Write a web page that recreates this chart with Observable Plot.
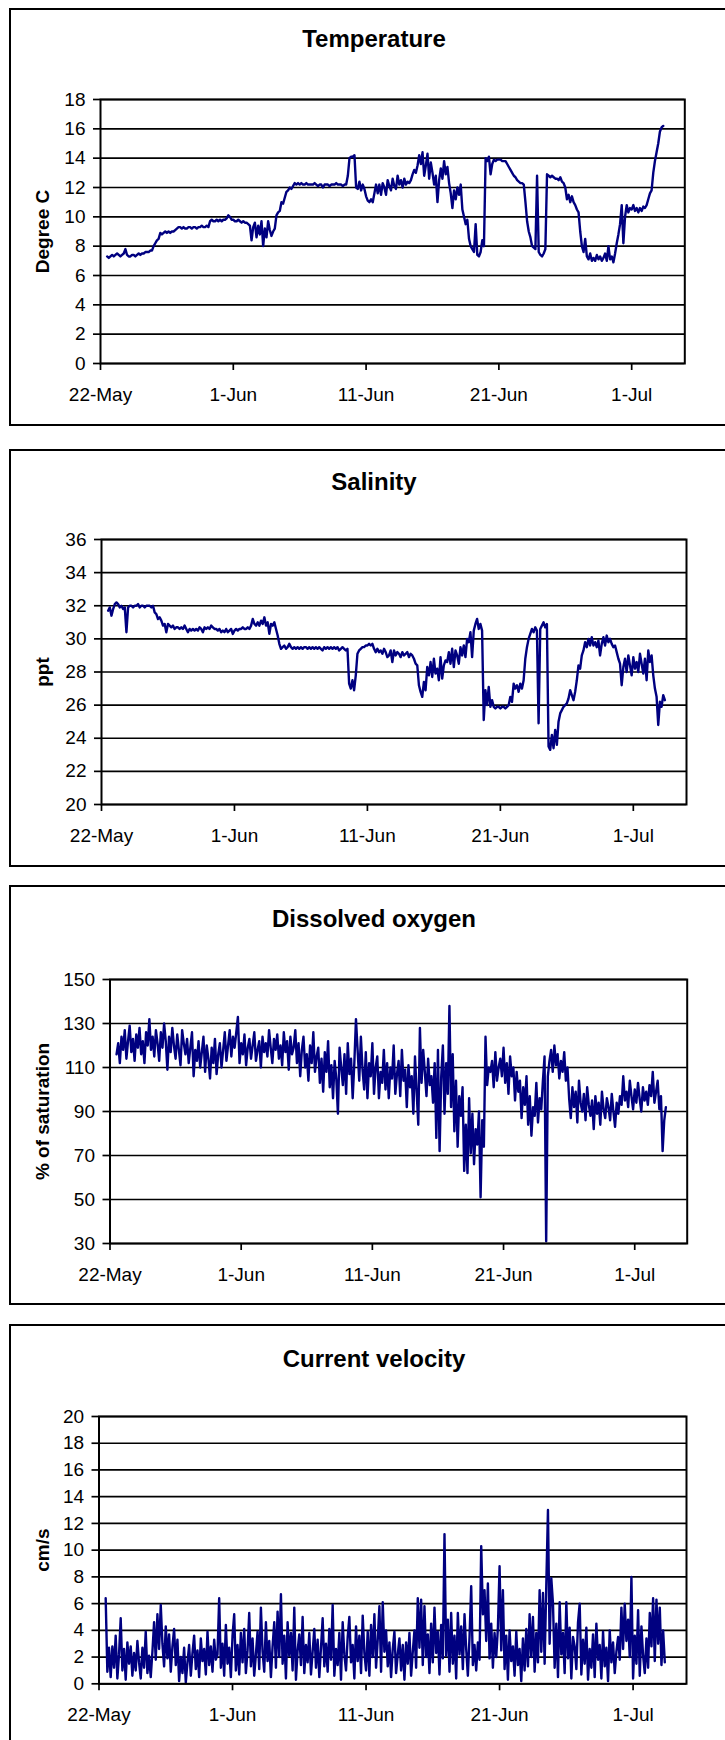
<!DOCTYPE html>
<html>
<head>
<meta charset="utf-8">
<script src="https://cdn.jsdelivr.net/npm/d3@7"></script>
<script src="https://cdn.jsdelivr.net/npm/@observablehq/plot@0.6"></script>
<style>
  html, body { margin: 0; padding: 0; background: #fff; }
  body { width: 725px; height: 1740px; overflow: hidden; position: relative;
         font-family: "Liberation Sans", Arial, sans-serif; }
  .box { position: absolute; left: 9px; width: 745px; border: 2.5px solid #000; box-sizing: border-box; }
  .title { position: absolute; left: 0; width: 748px; text-align: center; font-weight: bold;
           font-size: 24px; line-height: 24px; color: #000; white-space: nowrap; }
  .chart { position: absolute; left: 0; }
  .chart g[aria-label$="axis tick"] { stroke-width: 1.7px; }
</style>
</head>
<body>
<script>
// Mooring record, one reading every 3 hours from 22 May 12:00 to 3 July 09:00.
const START = Date.UTC(2005, 4, 22, 12);
const STEP_HOURS = 3;

const xDomain = [new Date(Date.UTC(2005, 4, 22)), new Date(Date.UTC(2005, 6, 5))];
const dateTicks = [
  new Date(Date.UTC(2005, 4, 22)), new Date(Date.UTC(2005, 5, 1)), new Date(Date.UTC(2005, 5, 11)),
  new Date(Date.UTC(2005, 5, 21)), new Date(Date.UTC(2005, 6, 1))
];

const temperatureTicks = [0, 2, 4, 6, 8, 10, 12, 14, 16, 18];
const salinityTicks = [20, 22, 24, 26, 28, 30, 32, 34, 36];
const oxygenTicks = [30, 50, 70, 90, 110, 130, 150];
const velocityTicks = [0, 2, 4, 6, 8, 10, 12, 14, 16, 18, 20];

// Degree C
const temperature = [
  7.3, 7.2, 7.3, 7.4,
  7.3, 7.4, 7.5, 7.4, 7.3, 7.4, 7.5, 7.8,
  7.4, 7.3, 7.3, 7.4, 7.4, 7.3, 7.4, 7.5,
  7.4, 7.5, 7.5, 7.6, 7.6, 7.6, 7.7, 7.7,
  8.0, 8.2, 8.4, 8.5, 8.9, 8.8, 8.9, 9.0,
  8.9, 9.0, 8.9, 9.0, 9.0, 9.1, 9.2, 9.3,
  9.3, 9.2, 9.3, 9.2, 9.2, 9.3, 9.3, 9.2,
  9.3, 9.3, 9.2, 9.3, 9.3, 9.4, 9.3, 9.3,
  9.4, 9.3, 9.7, 9.8, 9.7, 9.7, 9.8, 9.7,
  9.8, 9.7, 9.8, 9.8, 9.9, 10.1, 10.0, 9.8,
  9.8, 9.7, 9.7, 9.8, 9.7, 9.6, 9.7, 9.6,
  9.6, 9.5, 9.4, 8.4, 9.3, 9.6, 8.6, 9.4,
  8.8, 9.7, 8.0, 9.2, 8.6, 9.7, 9.1, 8.7,
  9.0, 9.2, 10.1, 10.3, 10.4, 11.0, 10.9, 11.3,
  11.7, 11.8, 12.0, 11.9, 12.1, 12.3, 12.2, 12.3,
  12.2, 12.3, 12.2, 12.2, 12.3, 12.2, 12.2, 12.2,
  12.2, 12.3, 12.2, 12.1, 12.2, 12.2, 12.0, 12.2,
  12.2, 12.2, 12.1, 12.2, 12.2, 12.2, 12.3, 12.2,
  12.2, 12.2, 12.1, 12.2, 12.2, 12.8, 14.0, 14.1,
  14.1, 14.2, 12.0, 11.9, 12.4, 11.8, 12.2, 11.9,
  11.4, 11.1, 11.0, 11.2, 11.0, 11.6, 12.2, 11.6,
  12.2, 11.5, 12.3, 12.0, 11.5, 12.5, 12.1, 11.8,
  12.6, 12.1, 11.9, 12.8, 12.2, 12.5, 12.0, 12.6,
  12.2, 12.4, 12.3, 12.5, 12.9, 13.2, 13.0, 13.5,
  14.2, 13.6, 14.4, 12.8, 13.5, 14.3, 12.6, 13.7,
  13.0, 12.2, 12.8, 11.0, 12.5, 13.3, 12.6, 13.8,
  12.9, 13.4, 12.3, 11.6, 10.6, 11.8, 11.2, 12.0,
  11.5, 12.2, 10.5, 10.0, 9.5, 9.8, 8.5, 8.0,
  7.8, 7.6, 9.5, 7.4, 7.3, 7.6, 8.4, 8.0,
  14.0, 13.8, 14.1, 12.9, 13.6, 13.9, 13.8, 13.9,
  13.9, 13.9, 13.8, 13.8, 13.8, 13.6, 13.4, 13.2,
  13.0, 12.8, 12.7, 12.5, 12.4, 12.3, 12.3, 12.2,
  11.0, 9.7, 9.0, 8.6, 8.0, 7.9, 7.8, 12.8,
  7.6, 7.4, 7.3, 7.5, 7.8, 12.9, 12.8, 12.7,
  12.8, 12.7, 12.6, 12.6, 12.5, 12.7, 12.4, 12.3,
  12.0, 11.2, 11.5, 11.0, 11.4, 11.0, 10.8, 10.5,
  10.3, 9.0, 8.0, 7.6, 8.5, 7.3, 7.1, 7.5,
  7.0, 7.2, 7.0, 7.4, 7.1, 7.3, 7.0, 7.2,
  7.5, 7.0, 8.0, 7.1, 7.3, 6.9, 7.5, 8.2,
  8.8, 9.5, 10.8, 8.2, 10.0, 10.8, 10.3, 10.6,
  10.5, 10.8, 10.4, 10.6, 10.3, 10.6, 10.4, 10.7,
  10.6, 10.8, 11.2, 11.6, 11.8, 13.0, 13.8, 14.4,
  15.0, 15.8, 16.1, 16.2
];

// ppt
const salinity = [
  31.7, 31.9, 31.4, 31.8,
  32.1, 32.2, 32.1, 31.9, 32.0, 31.8, 31.9, 30.4,
  31.9, 32.0, 32.0, 31.9, 32.0, 32.0, 32.1, 31.9,
  32.0, 32.0, 31.9, 32.0, 32.0, 32.0, 31.9, 32.0,
  31.6, 31.5, 31.2, 31.3, 31.1, 30.8, 30.9, 30.4,
  30.9, 30.8, 30.7, 30.8, 30.6, 30.7, 30.7, 30.6,
  30.7, 30.6, 30.8, 30.6, 30.4, 30.6, 30.5, 30.6,
  30.5, 30.6, 30.5, 30.7, 30.6, 30.4, 30.7, 30.6,
  30.7, 30.6, 30.8, 30.7, 30.6, 30.6, 30.5, 30.6,
  30.4, 30.5, 30.4, 30.6, 30.4, 30.5, 30.6, 30.3,
  30.5, 30.6, 30.5, 30.6, 30.6, 30.7, 30.6, 30.6,
  30.7, 30.6, 30.8, 31.2, 30.9, 30.8, 31.0, 30.8,
  31.1, 30.9, 31.3, 30.8, 31.0, 30.3, 30.9, 30.8,
  31.0, 30.6, 30.2, 29.7, 29.4, 29.5, 29.6, 29.4,
  29.5, 29.7, 29.5, 29.4, 29.5, 29.4, 29.5, 29.4,
  29.5, 29.4, 29.5, 29.5, 29.4, 29.5, 29.4, 29.5,
  29.4, 29.5, 29.4, 29.5, 29.4, 29.3, 29.5, 29.4,
  29.5, 29.4, 29.5, 29.4, 29.5, 29.4, 29.5, 29.3,
  29.4, 29.5, 29.4, 29.3, 29.4, 27.3, 27.0, 27.5,
  26.9, 27.8, 29.1, 29.3, 29.4, 29.5, 29.5, 29.6,
  29.6, 29.7, 29.6, 29.7, 29.4, 29.2, 29.4, 29.2,
  29.3, 29.1, 29.4, 29.2, 28.9, 29.0, 29.3, 28.6,
  29.3, 29.0, 29.2, 29.1, 28.9, 29.2, 29.0, 29.1,
  29.2, 28.9, 29.1, 29.0, 28.8, 28.5, 28.4, 27.2,
  26.8, 26.5, 27.4, 26.9, 28.3, 27.8, 28.6, 27.7,
  28.8, 27.9, 28.2, 27.5, 28.9, 27.6, 28.4, 28.7,
  28.6, 29.2, 28.5, 29.4, 28.3, 29.3, 29.0, 28.5,
  29.5, 29.0, 29.6, 28.9, 30.0, 29.8, 30.4, 28.9,
  30.5, 30.9, 31.2, 30.6, 30.9, 30.5, 25.1, 26.9,
  26.0, 27.1, 25.9, 26.3, 25.9, 25.8, 25.9, 25.9,
  25.8, 25.9, 25.9, 25.8, 25.9, 26.0, 26.5, 26.2,
  27.3, 27.0, 27.2, 26.8, 27.3, 27.0, 27.5, 28.8,
  29.5, 30.0, 30.3, 30.6, 30.4, 30.7, 30.5, 24.9,
  30.6, 30.8, 31.0, 30.7, 30.9, 23.5, 23.3, 24.2,
  23.4, 24.5, 23.6, 25.0, 25.5, 25.7, 25.9, 26.0,
  26.1, 26.4, 26.9, 26.6, 26.3, 26.8, 27.5, 28.4,
  28.2, 29.0, 29.3, 29.8, 29.5, 30.0, 29.6, 30.1,
  29.6, 29.8, 29.5, 29.9, 29.0, 29.7, 30.1, 29.6,
  30.2, 29.8, 30.0, 29.7, 29.5, 29.6, 29.2, 28.8,
  28.5, 27.2, 28.3, 28.8, 28.0, 29.0, 28.4, 27.8,
  28.9, 28.2, 28.6, 28.0, 29.1, 28.5, 27.9, 28.8,
  27.5, 29.3, 28.6, 29.0, 27.8, 27.0, 26.5, 24.8,
  26.2, 25.9, 26.6, 26.3
];

// % of saturation
const oxygen = [
  116, 121, 112, 124,
  118, 127, 114, 122, 129, 117, 123, 113,
  125, 119, 128, 116, 122, 112, 126, 120,
  132, 118, 124, 115, 127, 121, 113, 126,
  119, 130, 122, 109, 124, 117, 128, 120,
  114, 125, 118, 111, 127, 121, 116, 123,
  112, 119, 126, 106, 118, 113, 122, 110,
  117, 124, 108, 120, 114, 105, 119, 112,
  123, 107, 116, 121, 110, 118, 126, 113,
  120, 127, 115, 124, 119, 126, 133, 112,
  121, 116, 125, 111, 119, 123, 114, 120,
  126, 113, 118, 122, 110, 124, 117, 121,
  115, 127, 119, 112, 123, 118, 125, 114,
  120, 111, 126, 117, 122, 109, 124, 116,
  119, 127, 112, 121, 106, 118, 124, 110,
  116, 104, 120, 112, 126, 108, 115, 119,
  103, 114, 99, 117, 108, 122, 101, 111,
  96, 113, 105, 89, 119, 110, 102, 116,
  98, 121, 107, 114, 96, 112, 132, 118,
  104, 124, 109, 100, 117, 96, 112, 106,
  121, 98, 110, 115, 96, 108, 103, 118,
  100, 112, 96, 110, 105, 120, 98, 107,
  113, 97, 118, 104, 109, 92, 111, 101,
  106, 89, 115, 99, 84, 128, 103, 118,
  108, 97, 114, 102, 106, 94, 112, 78,
  118, 72, 106, 120, 89, 112, 98, 138,
  92, 116, 81, 104, 74, 97, 88, 101,
  63, 84, 62, 96, 71, 89, 66, 82,
  75, 90, 51, 86, 74, 124, 102, 110,
  108, 113, 101, 117, 104, 110, 114, 106,
  119, 103, 112, 98, 115, 106, 110, 95,
  108, 99, 104, 87, 101, 93, 106, 84,
  97, 79, 92, 88, 103, 85, 96, 91,
  104, 115, 31, 106, 113, 118, 108, 120,
  111, 116, 105, 113, 108, 117, 104, 110,
  96, 87, 101, 92, 99, 85, 104, 94,
  90, 98, 86, 101, 93, 88, 95, 82,
  97, 89, 94, 84, 99, 91, 87, 96,
  92, 86, 98, 90, 83, 94, 89, 97,
  93, 106, 95, 99, 92, 104, 97, 91,
  100, 94, 103, 96, 90, 101, 95, 99,
  93, 102, 97, 108, 94, 99, 104, 91,
  97, 72, 86, 92
];

// cm/s
const velocity = [
  6.4, 0.9, 2.7, 0.5,
  2.8, 1.2, 3.6, 0.4, 2.2, 4.9, 1.0, 2.6,
  0.3, 3.1, 1.5, 2.8, 0.6, 2.3, 1.0, 3.2,
  1.6, 0.4, 2.7, 1.2, 3.9, 0.8, 2.1, 0.5,
  2.4, 4.6, 1.8, 5.2, 2.6, 5.9, 3.0, 1.3,
  4.3, 1.9, 3.7, 0.9, 2.8, 4.1, 1.4, 3.3,
  0.2, 2.0, 0.8, 2.7, 0.1, 1.6, 2.9, 0.6,
  2.3, 3.6, 1.1, 2.5, 0.5, 3.4, 1.7, 2.6,
  0.7, 3.9, 1.4, 2.8, 0.9, 3.3, 1.8, 2.2,
  6.4, 1.2, 3.0, 0.6, 4.4, 1.5, 2.7, 0.5,
  3.6, 5.2, 1.0, 2.9, 0.7, 3.8, 1.6, 4.1,
  0.8, 2.5, 5.3, 1.3, 3.4, 0.6, 2.2, 3.9,
  1.1, 5.7, 2.4, 0.9, 4.6, 1.7, 3.2, 0.5,
  2.8, 4.6, 1.2, 5.4, 2.0, 6.7, 1.5, 3.6,
  0.4, 4.6, 2.1, 3.8, 1.0, 5.7, 0.3, 2.5,
  3.7, 1.4, 5.0, 0.8, 2.9, 1.6, 3.8, 0.7,
  2.4, 4.1, 1.2, 3.3, 0.5, 2.7, 4.9, 1.3,
  3.0, 0.9, 4.1, 1.8, 5.9, 0.6, 2.6, 1.4,
  3.8, 0.3, 4.6, 2.2, 1.0, 3.5, 5.0, 1.6,
  2.9, 0.4, 4.3, 1.7, 3.6, 0.8, 5.1, 2.3,
  1.0, 3.9, 0.6, 4.4, 2.0, 5.2, 1.2, 3.3,
  5.8, 0.9, 6.1, 2.4, 4.0, 1.3, 3.1, 0.5,
  2.6, 3.9, 0.8, 2.2, 3.4, 1.0, 2.9, 0.3,
  3.1, 1.5, 3.8, 0.6, 2.4, 4.0, 1.2, 6.4,
  2.7, 6.3, 1.4, 5.8, 2.0, 3.7, 0.8, 4.5,
  1.6, 5.7, 2.3, 3.9, 0.7, 4.4, 1.9, 11.2,
  2.1, 4.8, 0.9, 5.3, 1.5, 3.6, 0.4, 5.3,
  2.2, 4.3, 1.1, 5.2, 2.6, 0.6, 3.5, 7.3,
  1.4, 2.9, 1.0, 3.1, 1.8, 10.3, 5.2, 7.0,
  3.2, 7.5, 1.9, 4.5, 1.2, 3.8, 2.0, 4.2,
  8.8, 2.5, 7.0, 1.1, 3.6, 0.3, 4.0, 1.7,
  2.8, 0.6, 3.9, 1.4, 2.6, 0.2, 3.4, 1.0,
  4.1, 1.3, 5.2, 2.0, 5.0, 0.9, 3.8, 1.6,
  7.0, 2.4, 6.8, 1.5, 7.4, 13.0, 3.0, 7.9,
  6.0, 1.2, 4.5, 0.5, 6.1, 2.2, 3.8, 0.8,
  6.1, 1.9, 4.2, 0.4, 3.5, 2.8, 1.1, 4.6,
  6.0, 0.7, 3.3, 1.5, 4.2, 0.3, 2.6, 1.2,
  3.7, 0.5, 4.5, 1.8, 2.9, 0.4, 3.9, 1.3,
  2.7, 0.2, 4.0, 1.6, 3.1, 0.8, 2.4, 3.5,
  1.8, 5.7, 2.6, 6.0, 3.2, 4.8, 2.0, 8.0,
  0.4, 3.6, 1.5, 5.5, 0.6, 4.3, 2.1, 0.8,
  3.4, 1.2, 5.3, 2.8, 6.4, 1.7, 6.3, 3.0,
  5.7, 1.4, 4.0, 1.6
];

// Panel layout in page pixels: outer box, title line and plot frame.
const panels = [
  { title: "Temperature", label: "Degree C", values: temperature, ticks: temperatureTicks,
    boxTop: 8, boxHeight: 418, titleTop: 27, top: 99.3, bottom: 363.3, left: 100, right: 684.3 },
  { title: "Salinity", label: "ppt", values: salinity, ticks: salinityTicks,
    boxTop: 449, boxHeight: 418, titleTop: 470, top: 539.3, bottom: 804.3, left: 101, right: 686 },
  { title: "Dissolved oxygen", label: "% of saturation", values: oxygen, ticks: oxygenTicks,
    boxTop: 885, boxHeight: 420, titleTop: 906.5, top: 979.3, bottom: 1243.3, left: 109.5, right: 686.7 },
  { title: "Current velocity", label: "cm/s", values: velocity, ticks: velocityTicks,
    boxTop: 1324, boxHeight: 430, titleTop: 1346.5, top: 1416, bottom: 1683.3, left: 98.5, right: 686 }
];

const fmt = d3.utcFormat("%-d-%b");
const FONT = '"Liberation Sans", Arial, Helvetica, sans-serif';
const MT = 4, MB = 52, W = 725;

for (const p of panels) {
  const box = document.createElement("div");
  box.className = "box";
  box.style.top = p.boxTop + "px";
  box.style.height = p.boxHeight + "px";
  document.body.appendChild(box);

  const title = document.createElement("div");
  title.className = "title";
  title.style.top = p.titleTop + "px";
  title.textContent = p.title;
  document.body.appendChild(title);

  const rows = p.values.map((v, i) => ({ t: new Date(START + i * STEP_HOURS * 3600e3), v }));
  const [y0, y1] = d3.extent(p.ticks);

  const chart = Plot.plot({
    width: W,
    height: (p.bottom - p.top) + MT + MB,
    marginTop: MT,
    marginBottom: MB,
    marginLeft: p.left,
    marginRight: W - p.right,
    style: { fontFamily: FONT, fontSize: "19px", color: "#000", background: "transparent", overflow: "visible" },
    x: { type: "utc", domain: xDomain, ticks: dateTicks, tickFormat: fmt,
         tickSize: 7, tickPadding: 17, label: null },
    y: { domain: [y0, y1], ticks: p.ticks, tickSize: 7, tickPadding: 8, label: null },
    marks: [
      Plot.ruleY(p.ticks, { stroke: "#000", strokeWidth: 1.7 }),
      Plot.line(rows, { x: "t", y: "v", stroke: "#000080", strokeWidth: 2.4 }),
      Plot.frame({ stroke: "#000", strokeWidth: 2 }),
      Plot.text([p.label], { frameAnchor: "left", text: d => d, dx: 42 - p.left, rotate: -90,
                             lineAnchor: "middle", textAnchor: "middle",
                             fontWeight: "bold", fontSize: 19, fill: "#000" })
    ]
  });
  chart.classList.add("chart");
  chart.style.position = "absolute";
  chart.style.left = "0px";
  chart.style.top = (p.top - MT) + "px";
  document.body.appendChild(chart);
}
</script>
</body>
</html>
